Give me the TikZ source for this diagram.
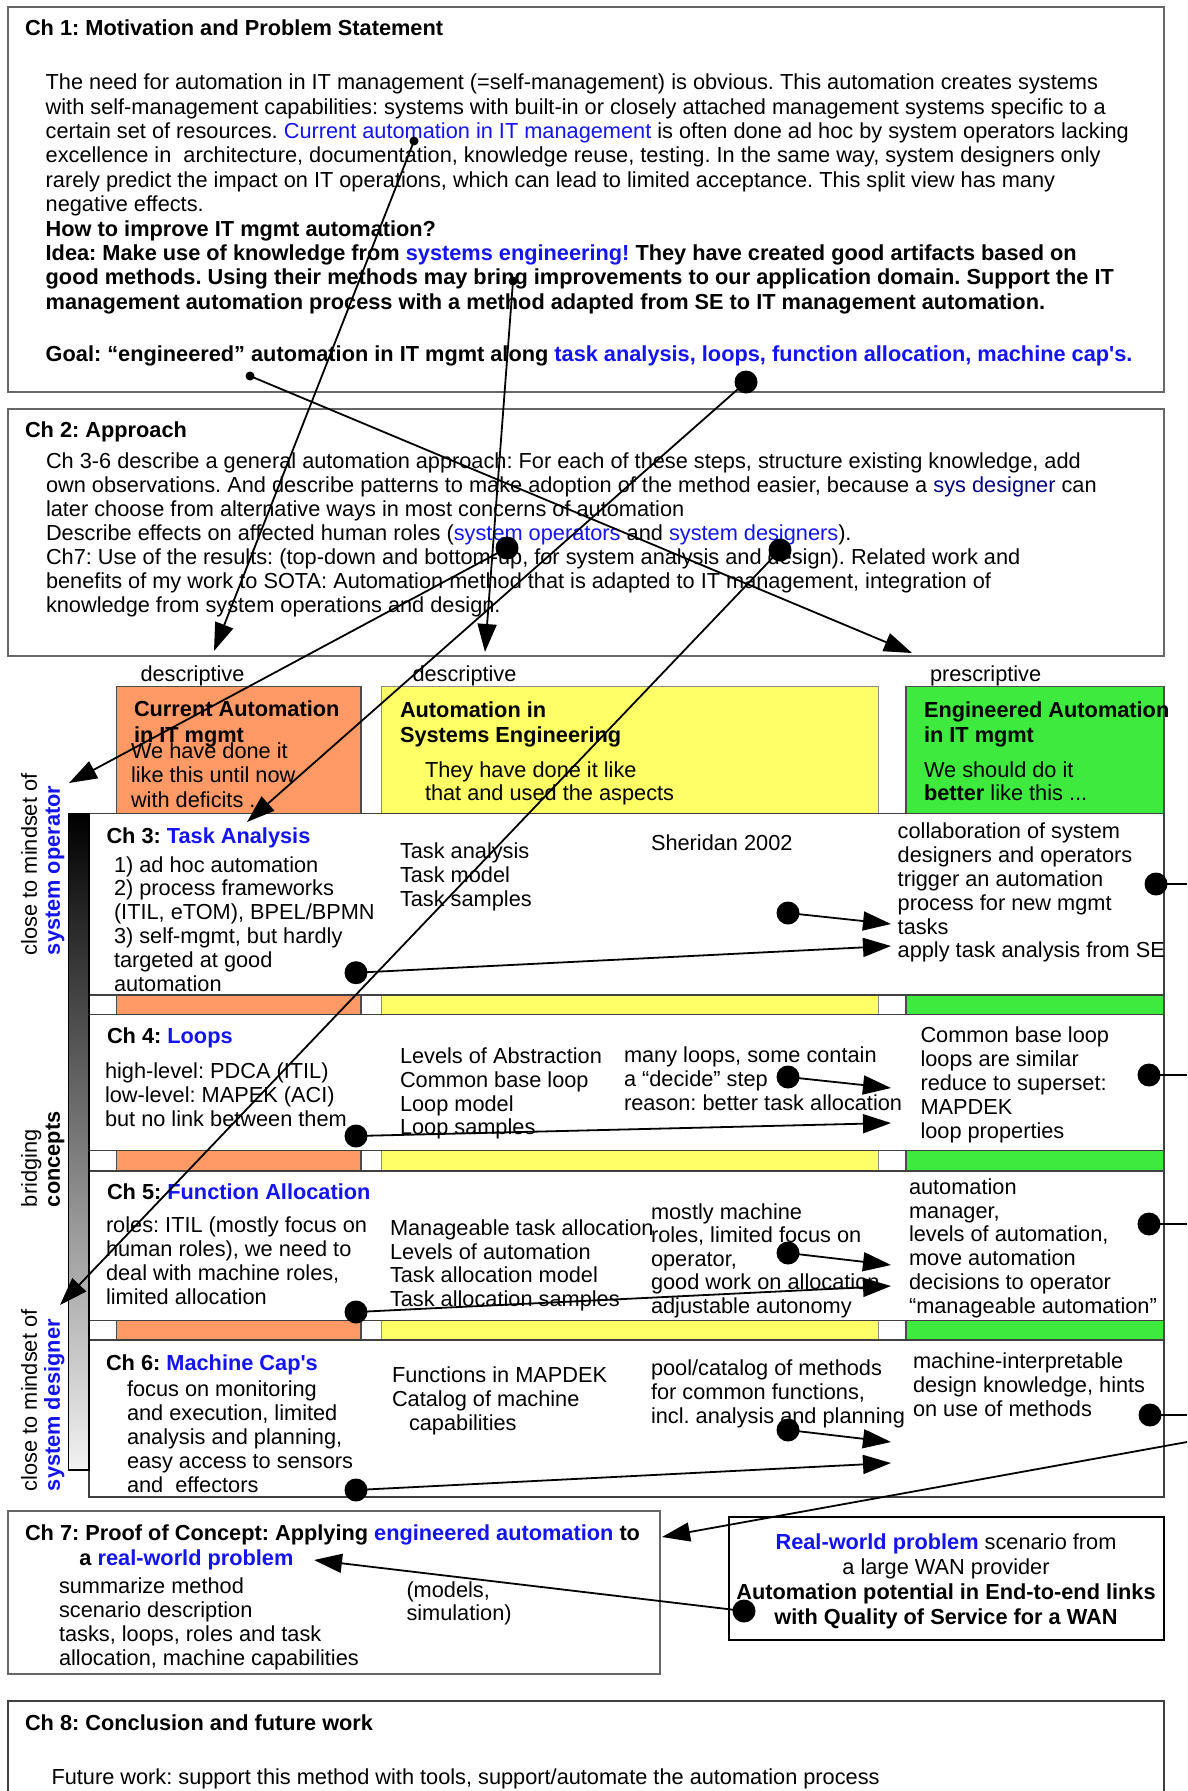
\documentclass[tikz,border=0pt]{standalone}
\usepackage{fontspec}
\setmainfont{Liberation Sans}[Ligatures=TeXOff]
\usetikzlibrary{arrows.meta}
\definecolor{tblue}{HTML}{1414F0}
\definecolor{tnavy}{HTML}{000080}
\definecolor{corange}{HTML}{FF9966}
\definecolor{cyellow}{HTML}{FFFF66}
\definecolor{cgreen}{HTML}{3DEA3D}
\newcommand\blu[1]{\textcolor{tblue}{#1}}
\newcommand\fsz[1]{\fontsize{21.75}{#1}\selectfont}
\frenchspacing

\begin{document}
\begin{tikzpicture}[x=1pt,y=-1pt,
  font=\fsz{24},
  txt/.style={inner sep=0pt,outer sep=0pt,anchor=north west,align=left},
  chbox/.style={draw=black!60,line width=1.5pt},
  rowbox/.style={draw=black!75,fill=white,line width=1.2pt},
  bigdot/.style={circle,fill=black,inner sep=0pt,minimum size=23pt},
  smalldot/.style={circle,fill=black,inner sep=0pt,minimum size=9pt},
  conn/.style={line width=1.8pt,-{Triangle[length=28pt,width=19pt]}},
  link/.style={line width=1.8pt}]

\path[use as bounding box,fill=white] (0,0) rectangle (1187,1791);

% ---------- chapter frames ----------
\draw[chbox] (8,7) rectangle (1164,392);
\draw[chbox] (8,409) rectangle (1164,656);
\draw[chbox] (8,1511) rectangle (660,1674);
\draw[draw=black,line width=2.5pt] (729,1517) rectangle (1164,1640);
\draw[rowbox] (8,1701) rectangle (1164,1800);

% ---------- matrix of chapters 3-6 ----------
\draw[rowbox] (89,813.5) rectangle (1164,1497);
\draw[fill=corange,draw=black!70,line width=1.2pt] (116.5,686.6) rectangle (361,1340);
\draw[fill=cyellow,draw=black!45,line width=1.2pt] (381.6,686.6) rectangle (878.6,1340);
\draw[fill=cgreen,draw=black!70,line width=1.2pt] (906,686.6) rectangle (1164,1340);
\draw[rowbox] (89,813.5) rectangle (1164,995);
\draw[rowbox] (89,1014.5) rectangle (1164,1150.5);
\draw[rowbox] (89,1171) rectangle (1164,1320.7);
\draw[rowbox] (89,1340) rectangle (1164,1497);

% gradient bar from operator to designer
\shade[top color=black,bottom color=black!5] (68.5,813.5) rectangle (89,1470);
\draw[line width=1.5pt] (68.5,813.5) rectangle (89,1470);

% ---------- Ch 1 ----------
\node[txt,font=\fsz{24}\bfseries] (h1) at (25,20) {Ch 1: Motivation and Problem Statement};
\node[txt,font=\fsz{24.4}] (b1) at (45.7,74) {The need for automation in IT management (=self-management) is obvious. This automation creates systems\\
with self-management capabilities: systems with built-in or closely attached management systems specific to a\\
certain set of resources. \blu{Current automation in IT management} is often done ad hoc by system operators lacking\\
excellence in \ architecture, documentation, knowledge reuse, testing. In the same way, system designers only\\
rarely predict the impact on IT operations, which can lead to limited acceptance. This split view has many\\
negative effects.\\
\textbf{How to improve IT mgmt automation?}\\
\textbf{Idea: Make use of knowledge from \blu{systems engineering!} They have created good artifacts based on}\\
\textbf{good methods. Using their methods may bring improvements to our application domain. Support the IT}\\
\textbf{management automation process with a method adapted from SE to IT management automation.}};
\node[txt,font=\fsz{24}\bfseries] (g1) at (45.7,345.7) {Goal: “engineered” automation in IT mgmt along \blu{task analysis, loops, function allocation, machine cap's.}};

% ---------- Ch 2 ----------
\node[txt,font=\fsz{24}\bfseries] (h2) at (25,421.5) {Ch 2: Approach};
\node[txt] (b2) at (46,453) {Ch 3-6 describe a general automation approach: For each of these steps, structure existing knowledge, add\\
own observations. And describe patterns to make adoption of the method easier, because a \textcolor{tnavy}{sys designer} can\\
later choose from alternative ways in most concerns of automation\\
Describe effects on affected human roles (\blu{system operators} and \blu{system designers}).\\
Ch7: Use of the results: (top-down and bottom-up, for system analysis and design). Related work and\\
benefits of my work to SOTA: Automation method that is adapted to IT management, integration of\\
knowledge from system operations and design.};

% ---------- column heads ----------
\node[txt] (d1) at (140.5,665.5) {descriptive};
\node[txt] (d2) at (412.5,665.5) {descriptive};
\node[txt] (p3) at (930,665.5) {prescriptive};
\node[txt,font=\fsz{26}\bfseries] (c1h) at (134,700.5) {Current Automation\\in IT mgmt};
\node[txt,font=\fsz{24.2}] (c1b) at (131,743) {We have done it\\like this until now\\with deficits .};
\node[txt,font=\fsz{25}\bfseries] (c2h) at (400,701.5) {Automation in\\Systems Engineering};
\node[txt,font=\fsz{23}] (c2b) at (425,761.5) {They have done it like\\that and used the aspects};
\node[txt,font=\fsz{25}\bfseries] (c3h) at (924,701.5) {Engineered Automation\\in IT mgmt};
\node[txt,font=\fsz{23}] (c3b) at (924,761.5) {We should do it\\\textbf{better} like this ...};

% ---------- side labels ----------
\node[txt,rotate=90,font=\fsz{23}] (lop) at (21,955) {close to mindset of\\\textbf{\blu{system operator}}};
\node[txt,rotate=90,font=\fsz{23}] (lbr) at (21,1207) {bridging\\\textbf{concepts}};
\node[txt,rotate=90,font=\fsz{23}] (lde) at (21,1491) {close to mindset of\\\textbf{\blu{system designer}}};

% ---------- Ch 3 ----------
\node[txt,font=\fsz{24}\bfseries] (h3) at (106.5,827.8) {Ch 3: \blu{Task Analysis}};
\node[txt,font=\fsz{23.8}] (r3a) at (114,856.4) {1) ad hoc automation\\2) process frameworks\\(ITIL, eTOM), BPEL/BPMN\\3) self-mgmt, but hardly\\targeted at good\\automation};
\node[txt] (r3b) at (400,842.5) {Task analysis\\Task model\\Task samples};
\node[txt] (r3c) at (651,834.5) {Sheridan 2002};
\node[txt,font=\fsz{23.8}] (r3d) at (897.7,823.2) {collaboration of system\\designers and operators\\trigger an automation\\process for new mgmt\\tasks\\apply task analysis from SE};

% ---------- Ch 4 ----------
\node[txt,font=\fsz{24}\bfseries] (h4) at (107,1027.5) {Ch 4: \blu{Loops}};
\node[txt] (r4a) at (105,1063.2) {high-level: PDCA (ITIL)\\low-level: MAPEK (ACI)\\but no link between them};
\node[txt,font=\fsz{23.9}] (r4b) at (400,1047.5) {Levels of Abstraction\\Common base loop\\Loop model\\Loop samples};
\node[txt] (r4c) at (624,1046.5) {many loops, some contain\\a “decide” step\\reason: better task allocation};
\node[txt] (r4d) at (920.5,1026.5) {Common base loop\\loops are similar\\reduce to superset:\\MAPDEK\\loop properties};

% ---------- Ch 5 ----------
\node[txt,font=\fsz{24}\bfseries] (h5) at (107,1184.2) {Ch 5: \blu{Function Allocation}};
\node[txt] (r5a) at (106,1216.5) {roles: ITIL (mostly focus on\\human roles), we need to\\deal with machine roles,\\limited allocation};
\node[txt,font=\fsz{23.8}] (r5b) at (390,1219.5) {Manageable task allocation\\Levels of automation\\Task allocation model\\Task allocation samples};
\node[txt,font=\fsz{23.5}] (r5c) at (651,1203.5) {mostly machine\\roles, limited focus on\\operator,\\good work on allocation\\adjustable autonomy};
\node[txt,font=\fsz{23.8}] (r5d) at (909,1178.5) {automation\\manager,\\levels of automation,\\move automation\\decisions to operator\\“manageable automation”};

% ---------- Ch 6 ----------
\node[txt,font=\fsz{24}\bfseries] (h6) at (106,1354.5) {Ch 6: \blu{Machine Cap's}};
\node[txt] (r6a) at (127,1380.5) {focus on monitoring\\and execution, limited\\analysis and planning,\\easy access to sensors\\and \ effectors};
\node[txt] (r6b) at (392,1367) {Functions in MAPDEK\\Catalog of machine\\\hspace*{17pt}capabilities};
\node[txt] (r6c) at (651,1360.2) {pool/catalog of methods\\for common functions,\\incl. analysis and planning};
\node[txt] (r6d) at (913,1353.2) {machine-interpretable\\design knowledge, hints\\on use of methods};

% ---------- Ch 7 ----------
\node[txt,font=\fsz{25}\bfseries] (h7) at (25,1524.5) {Ch 7: Proof of Concept: Applying \blu{engineered automation} to\\\hspace*{54.5pt}a \blu{real-world problem}};
\node[txt] (b7) at (59,1577.5) {summarize method\\scenario description\\tasks, loops, roles and task\\allocation, machine capabilities};
\node[txt,font=\fsz{23.5}] (m7) at (406.5,1581.5) {(models,\\simulation)};
\node[inner sep=0pt,anchor=north,align=center,font=\fsz{25}] (rw) at (946,1533.5) {\textbf{\blu{Real-world problem}} scenario from\\a large WAN provider\\\textbf{Automation potential in End-to-end links}\\\textbf{with Quality of Service for a WAN}};

% ---------- Ch 8 ----------
\node[txt,font=\fsz{24}\bfseries] (h8) at (25,1714.5) {Ch 8: Conclusion and future work};
\node[txt] (b8) at (51.5,1768.5) {Future work: support this method with tools, support/automate the automation process};

% ---------- connector ends ----------
\node[smalldot] (sA) at (414,141) {};
\node[smalldot] (sB) at (250,376) {};
\node[smalldot] (sC) at (513,281) {};
\node[bigdot] (dD) at (746,382) {};
\node[bigdot] (dE) at (507,548) {};
\node[bigdot] (dF) at (780,550) {};
\coordinate (tA) at (214,651);
\coordinate (tB) at (912,653);
\coordinate (tC) at (485,652);
\coordinate (tD) at (247,822);
\coordinate (tE) at (69,783);
\coordinate (tF) at (60,1305);

\node[bigdot] (d31) at (788,913) {};
\node[bigdot] (d32) at (356,972.7) {};
\node[bigdot] (d33) at (1156,884) {};
\coordinate (t31) at (891,924);
\coordinate (t32) at (891,946);
\coordinate (e33) at (1187,884);

\node[bigdot] (d41) at (788,1077) {};
\node[bigdot] (d42) at (356,1136) {};
\node[bigdot] (d43) at (1149,1075) {};
\coordinate (t41) at (891,1088);
\coordinate (t42) at (891,1123);
\coordinate (e43) at (1187,1075);

\node[bigdot] (d51) at (788,1253) {};
\node[bigdot] (d52) at (356,1312) {};
\node[bigdot] (d53) at (1149,1224) {};
\coordinate (t51) at (891,1265);
\coordinate (t52) at (891,1286);
\coordinate (e53) at (1187,1224);

\node[bigdot] (d61) at (788,1430) {};
\node[bigdot] (d62) at (356,1490) {};
\node[bigdot] (d63) at (1150,1415) {};
\coordinate (t61) at (891,1442);
\coordinate (t62) at (891,1463);
\coordinate (e63) at (1187,1415);

\coordinate (e7) at (1187,1442);
\coordinate (t7) at (662,1537);
\node[bigdot] (d8) at (744,1611) {};
\coordinate (t8) at (314,1560);

% ---------- connectors ----------
\draw[conn] (sA.center) -- (tA);
\draw[conn] (sB.center) -- (tB);
\draw[conn] (sC.center) -- (tC);
\draw[conn] (dD.center) -- (tD);
\draw[conn] (dE.center) -- (tE);
\draw[conn] (dF.center) -- (tF);

\draw[conn] (d31.center) -- (t31);
\draw[conn] (d32.center) -- (t32);
\draw[link] (d33.center) -- (e33);
\draw[conn] (d41.center) -- (t41);
\draw[conn] (d42.center) -- (t42);
\draw[link] (d43.center) -- (e43);
\draw[conn] (d51.center) -- (t51);
\draw[conn] (d52.center) -- (t52);
\draw[link] (d53.center) -- (e53);
\draw[conn] (d61.center) -- (t61);
\draw[conn] (d62.center) -- (t62);
\draw[link] (d63.center) -- (e63);

\draw[conn] (e7) -- (t7);
\draw[conn] (d8.center) -- (t8);

\end{tikzpicture}
\end{document}
